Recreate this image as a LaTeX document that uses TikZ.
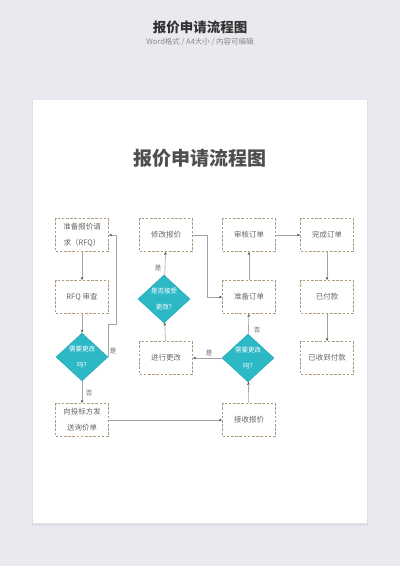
\documentclass[tikz,border=0pt]{standalone}
\usepackage{fontspec}
\setmainfont{Noto Sans CJK SC}
\usetikzlibrary{shapes.geometric,arrows.meta}
\definecolor{pagebg}{HTML}{E8EAF0}
\definecolor{pageshade}{HTML}{DCDFE6}
\definecolor{titlegray}{HTML}{333333}
\definecolor{subgray}{HTML}{8A8A8A}
\definecolor{innergray}{HTML}{4F4F4F}
\definecolor{boxline}{HTML}{B09A80}
\definecolor{boxtext}{HTML}{666666}
\definecolor{askfill}{HTML}{2DB8C6}
\definecolor{askline}{HTML}{22A6B4}
\definecolor{linegray}{HTML}{A3A3A3}
\definecolor{tipgray}{HTML}{505050}

\begin{document}
\begin{tikzpicture}[x=1pt,y=-1pt,
	box/.style={shape=rectangle,draw=boxline,dash pattern=on 2.6pt off 1.6pt,line width=0.6pt,fill=white,minimum width=53pt,minimum height=33pt,inner sep=0pt,text=boxtext,align=center,font=\fontsize{7.5}{16}\selectfont},
	ask/.style={shape=diamond,fill=askfill,draw=askline,line width=0.4pt,minimum width=52pt,minimum height=47pt,inner sep=0pt,text=white,align=center,font=\fontsize{6.5}{16}\selectfont},
	link/.style={draw=linegray,line width=0.6pt,-{Stealth[length=3.2pt,width=2.6pt,color=tipgray]}},
	tag/.style={text=boxtext,font=\fontsize{6.5}{7}\selectfont}]
	
	\useasboundingbox (0,0) rectangle (400,566);
	\fill[pagebg] (0,0) rectangle (400,566);
	\fill[pageshade] (32,101) rectangle (368,526);
	\fill[white] (33,100) rectangle (367,523);
	
	\node[text=titlegray,font=\bfseries\fontsize{13.5}{14}\selectfont] (head) at (200,27) {报价申请流程图};
	\node[text=subgray,font=\fontsize{7.5}{8}\selectfont] (sub) at (200,42) {Word格式 / A4大小 / 内容可编辑};
	\node[text=innergray,font=\bfseries\fontsize{19}{20}\selectfont] (title) at (200,158) {报价申请流程图};
	
	\node[box] (rfq) at (82,235)     {准备报价请\\求（RFQ）};
	\node[box] (revise) at (166,235)     {修改报价};
	\node[box] (check) at (249,235)     {审核订单};
	\node[box] (done) at (327,235)     {完成订单};
	\node[box] (review) at (82,297)     {RFQ 审查};
	\node[ask] (accept) at (164,299)     {是否接受\\更改?};
	\node[box] (prep) at (249,297)     {准备订单};
	\node[box] (paid) at (327,297)     {已付款};
	\node[ask] (need1) at (82,357)     {需要更改\\吗?};
	\node[box] (change) at (166,358)     {进行更改};
	\node[ask] (need2) at (248,358)     {需要更改\\吗?};
	\node[box] (received) at (327,358)     {已收到付款};
	\node[box] (send) at (82,420)     {向投标方发\\送询价单};
	\node[box] (quote) at (249,420)     {接收报价};
	
	\node[tag] (yes1) at (113,351)     {是};
	\node[tag] (no1) at (89,393)     {否};
	\node[tag] (yes2) at (209,353)     {是};
	\node[tag] (no2) at (257,330)     {否};
	\node[tag] (yes3) at (158,268)     {是};
	
	\path[link] (rfq) edge (review);
	\path[link] (review) edge (need1);
	\path[link] (need1) edge (send);
	\path[link] (send) edge (quote);
	\path[link] (quote) edge (need2);
	\path[link] (need2) edge (change);
	\path[link] (need2) edge (prep);
	\path[link] (change) edge (accept);
	\path[link] (accept) edge (revise);
	\path[link] (prep) edge (check);
	\path[link] (check) edge (done);
	\path[link] (done) edge (paid);
	\path[link] (paid) edge (received);
	\draw[link] (need1.east) -- ++(0,-33) -- ++(8,0) |- (rfq.east);
	\draw[link] (revise.east) -- ++(14,0) |- (prep.west);
\end{tikzpicture}
\end{document}
